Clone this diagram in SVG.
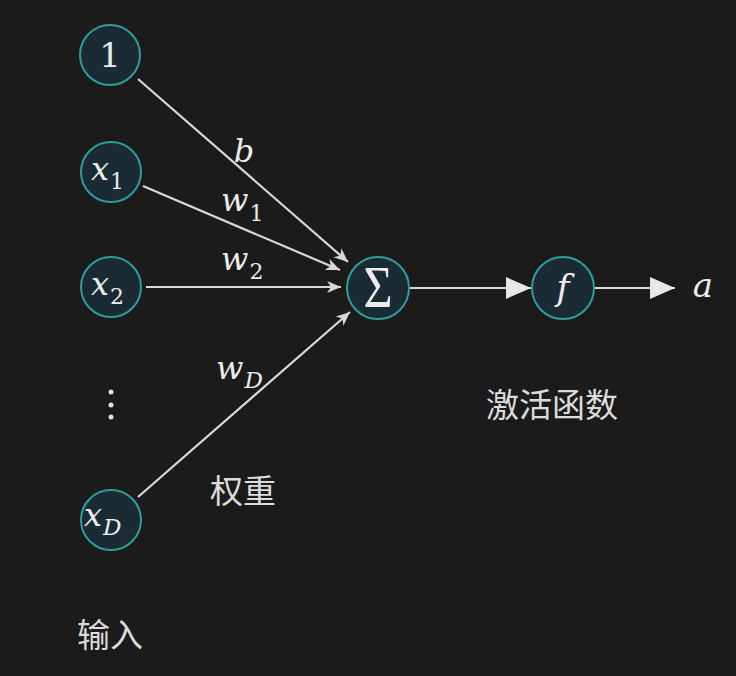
<svg xmlns="http://www.w3.org/2000/svg" width="736" height="676" viewBox="0 0 736 676">
<style>
.node circle{fill:#1a2b33;stroke:#2e9e9a;stroke-width:2}
.m{font-family:"DejaVu Serif","Liberation Serif",serif;font-style:italic;fill:#ececec}
.u{font-family:"DejaVu Serif","Liberation Serif",serif;fill:#ececec}
.s{font-size:22px;font-style:normal}
.si{font-size:23px}
.cn{font-family:"Noto Sans CJK SC",sans-serif;fill:#dcdcdc;font-size:33px}
.e{stroke:#d8d8d8;stroke-width:2.2;fill:none}
</style>
<defs>
<marker id="sa" markerUnits="userSpaceOnUse" markerWidth="16" markerHeight="14" refX="14" refY="6" orient="auto">
<path d="M0,0 L14,6 L0,12 L4,6 z" fill="#d8d8d8"/>
</marker>
<marker id="ba" markerUnits="userSpaceOnUse" markerWidth="26" markerHeight="24" refX="25" refY="11" orient="auto">
<path d="M0,0 L25,11 L0,22 z" fill="#e8e8e8"/>
</marker>
</defs>
<rect width="736" height="676" fill="#1b1b1b"/>
<g id="connectors">
<line class="e" x1="138" y1="79" x2="348" y2="262" marker-end="url(#sa)"/>
<line class="e" x1="143" y1="186" x2="340" y2="270" marker-end="url(#sa)"/>
<line class="e" x1="146" y1="287" x2="341" y2="287" marker-end="url(#sa)"/>
<line class="e" x1="138" y1="497" x2="350" y2="312" marker-end="url(#sa)"/>
<line class="e" x1="410" y1="288" x2="531" y2="288" marker-end="url(#ba)"/>
<line class="e" x1="595" y1="288" x2="675" y2="288" marker-end="url(#ba)"/>
</g>
<g id="n1" class="node"><circle cx="110" cy="55" r="30"/><text class="u" x="110" y="67" font-size="34" text-anchor="middle">1</text></g>
<g id="nx1" class="node"><circle cx="111" cy="172" r="30"/><text class="m" x="91" y="180" font-size="32">x<tspan class="s" dx="1" dy="9">1</tspan></text></g>
<g id="nx2" class="node"><circle cx="111" cy="287" r="30"/><text class="m" x="91" y="295" font-size="32">x<tspan class="s" dx="1" dy="9">2</tspan></text></g>
<g id="nxD" class="node"><circle cx="111" cy="520" r="30"/><text class="m" x="84" y="526" font-size="32">x<tspan class="si" dx="1" dy="9">D</tspan></text></g>
<g id="dots"><circle cx="111" cy="392" r="2.5" fill="#e0e0e0"/><circle cx="111" cy="405" r="2.5" fill="#e0e0e0"/><circle cx="111" cy="417" r="2.5" fill="#e0e0e0"/></g>
<g id="sum" class="node"><circle cx="378" cy="288" r="31"/><text x="378" y="307" font-family="Liberation Serif, serif" fill="#ececec" font-size="50" text-anchor="middle" transform="translate(378 307) scale(1 1.2) translate(-378 -307)">Σ</text></g>
<g id="f" class="node"><circle cx="563" cy="288" r="31"/><text class="m" x="563" y="300" font-size="35" text-anchor="middle">f</text></g>
<text class="m" x="703" y="297" font-size="34" text-anchor="middle">a</text>
<text class="m" x="244" y="162" font-size="32" text-anchor="middle">b</text>
<text class="m" x="221" y="211" font-size="32">w<tspan class="s" dx="1" dy="10">1</tspan></text>
<text class="m" x="221" y="270" font-size="32">w<tspan class="s" dx="1" dy="9">2</tspan></text>
<text class="m" x="216" y="379" font-size="32">w<tspan class="si" dx="1" dy="9">D</tspan></text>
<text class="cn" x="243" y="503" text-anchor="middle">权重</text>
<text class="cn" x="552" y="417" text-anchor="middle">激活函数</text>
<text class="cn" x="110" y="647" text-anchor="middle">输入</text>
</svg>
